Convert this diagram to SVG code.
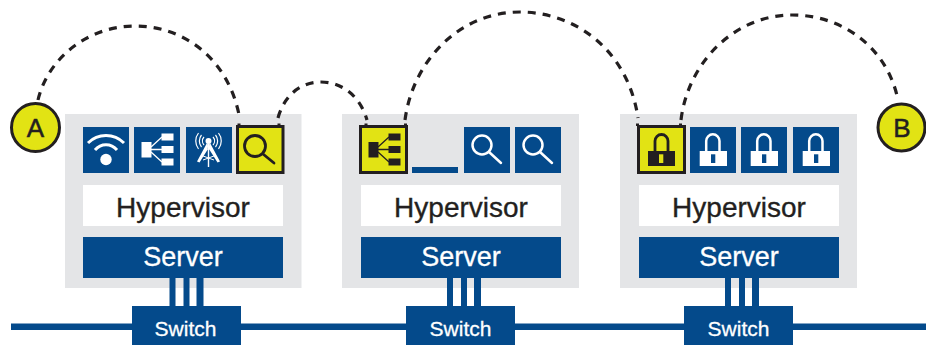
<svg xmlns="http://www.w3.org/2000/svg" xmlns:xlink="http://www.w3.org/1999/xlink" width="926" height="345" viewBox="0 0 926 345">
<style>
text{font-family:"Liberation Sans",Arial,sans-serif;text-anchor:middle}
.panel{fill:#e4e5e7}
.blue{fill:#044a8b}
.white{fill:#fff}
.yellow{fill:#e2e314;stroke:#231f20;stroke-width:3}
.hv{font-size:28px;fill:#231f20;stroke:#231f20;stroke-width:.35}
.sv{font-size:27px;fill:#fff;stroke:#fff;stroke-width:.3}
.sw{font-size:21px;fill:#fff;stroke:#fff;stroke-width:.3}
.lt{font-size:26px;fill:#231f20;stroke:#231f20;stroke-width:.5}
.dash{fill:none;stroke:#231f20;stroke-width:3.200;stroke-dasharray:8 7}
.nub{fill:none;stroke:#231f20;stroke-width:3}
.wl{fill:none;stroke:#fff;stroke-width:2.500}
.dl{fill:none;stroke:#231f20;stroke-width:2.800}
</style>
<defs>
<g id="lens-w"><circle cx="18" cy="18" r="9.500" class="wl"/><path d="M25 25L37 36" class="wl" stroke-linecap="round"/></g>
<g id="lens-d"><circle cx="18" cy="19" r="10.500" class="dl"/><path d="M26 27L37 36" class="dl" stroke-linecap="round"/></g>
<g id="lock-w"><path d="M16.200 24V14a6.650 6.650 0 0 1 13.300 0V24" class="wl"/><rect x="9.700" y="24" width="27.300" height="15" class="white"/><rect x="21" y="27.300" width="4.300" height="8.700" class="blue"/></g>
<g id="tree"><rect x="8" y="15.500" width="9" height="14.500"/><rect x="28" y="7" width="11" height="6"/><rect x="28" y="19.500" width="11" height="6"/><rect x="28" y="32" width="11" height="6"/><path d="M17 20L28 10M17 22.500H28M17 25L28 35" fill="none" stroke-width="1.300"/></g>
<g id="icon-bg"><rect width="46" height="46" class="blue"/></g>
<g id="links"><rect x="0" width="6" height="28" class="blue"/><rect x="14" width="6" height="28" class="blue"/><rect x="27" width="7" height="28" class="blue"/></g>
</defs>

<g id="backbone"><rect x="11" y="323.500" width="915" height="6.500" class="blue"/></g>

<g id="server-1">
<rect class="panel" x="65" y="114" width="236.500" height="174"/>
<use xlink:href="#icon-bg" x="83" y="127"/>
<path d="M88 143C98 133 114 133 124 143M95 150C101 143 111 143 117 150" fill="none" stroke="#fff" stroke-width="3"/>
<circle cx="106" cy="159.500" r="5.700" class="white"/>
<use xlink:href="#icon-bg" x="134" y="127"/>
<use xlink:href="#tree" x="134" y="127" fill="#fff" stroke="#fff"/>
<use xlink:href="#icon-bg" x="186" y="127"/>
<path d="M204 137a6 6 0 0 0 0 8M201.500 135a9.500 9.500 0 0 0 0 12M198.500 133a13 13 0 0 0 0 16M213 137a6 6 0 0 1 0 8M215.500 135a9.500 9.500 0 0 1 0 12M218.500 133a13 13 0 0 1 0 16" fill="none" stroke="#fff" stroke-width="1.200"/>
<circle cx="208.500" cy="141" r="3" class="white"/>
<path d="M207.500 142L197 161.500 199.500 162.500 208 149ZM209.500 142L220 161.500 217.500 162.500 209 149ZM207.800 144H209.200V167H207.800Z" class="white"/>
<path d="M203 156L214 160M214 156L203 160" fill="none" stroke="#fff" stroke-width="1"/>
<rect x="237.500" y="126.500" width="45.500" height="46" class="yellow"/>
<use xlink:href="#lens-d" x="237" y="127"/>
<path class="nub" d="M239 123.500V126M279 123.500V126"/>
<rect class="white" x="83" y="185" width="200" height="41"/>
<text class="hv" x="183" y="216.500">Hypervisor</text>
<rect class="blue" x="83" y="237" width="200" height="41"/>
<text class="sv" x="183" y="266">Server</text>
</g>

<g id="server-2">
<rect class="panel" x="342" y="114" width="237" height="174"/>
<rect x="360.500" y="126.500" width="46" height="46" class="yellow"/>
<use xlink:href="#tree" x="361" y="127" fill="#231f20" stroke="#231f20"/>
<path class="nub" d="M366 123.500V126M405.500 123.500V126"/>
<rect x="412" y="167" width="46" height="6" class="blue"/>
<use xlink:href="#icon-bg" x="464" y="127"/>
<use xlink:href="#lens-w" x="464" y="127"/>
<use xlink:href="#icon-bg" x="515" y="127"/>
<use xlink:href="#lens-w" x="515" y="127"/>
<rect class="white" x="361" y="185" width="200" height="41"/>
<text class="hv" x="461" y="216.500">Hypervisor</text>
<rect class="blue" x="361" y="237" width="200" height="41"/>
<text class="sv" x="461" y="266">Server</text>
</g>

<g id="server-3">
<rect class="panel" x="620" y="114" width="237" height="174"/>
<rect x="638.500" y="126.500" width="46" height="46" class="yellow"/>
<path class="nub" d="M637.500 123.500V126M680.500 123.500V126"/>
<path d="M655 151V141a6.500 6.500 0 0 1 13 0V151" class="dl"/>
<rect x="648" y="151" width="27" height="15" fill="#231f20"/>
<rect x="659" y="154.300" width="4.300" height="8.700" fill="#e2e314"/>
<use xlink:href="#icon-bg" x="690" y="127"/>
<use xlink:href="#lock-w" x="690" y="127"/>
<use xlink:href="#icon-bg" x="741" y="127"/>
<use xlink:href="#lock-w" x="741" y="127"/>
<use xlink:href="#icon-bg" x="793" y="127"/>
<use xlink:href="#lock-w" x="793" y="127"/>
<rect class="white" x="639" y="185" width="200" height="41"/>
<text class="hv" x="739" y="216.500">Hypervisor</text>
<rect class="blue" x="639" y="237" width="200" height="41"/>
<text class="sv" x="739" y="266">Server</text>
</g>

<g id="connectors">
<path class="dash" d="M38 100C48 58 88 26 135 26C185 26 230 60 240 120"/>
<path class="dash" d="M278 118C284 96 300 82 321 82C342 82 360 96 367 120"/>
<path class="dash" d="M405 120C413 60 460 12 520 12C575 12 628 50 638 118"/>
<path class="dash" d="M681 120C688 62 735 15 792 15C845 15 888 50 898 100"/>
</g>

<g id="switch-1">
<use xlink:href="#links" x="169.500" y="278"/>
<rect x="132" y="306" width="109" height="39" class="blue"/>
<text class="sw" x="185.500" y="336">Switch</text>
</g>
<g id="switch-2">
<use xlink:href="#links" x="447" y="278"/>
<rect x="406" y="306" width="109" height="39" class="blue"/>
<text class="sw" x="460.500" y="336">Switch</text>
</g>
<g id="switch-3">
<use xlink:href="#links" x="725" y="278"/>
<rect x="684" y="306" width="109" height="39" class="blue"/>
<text class="sw" x="738.500" y="336">Switch</text>
</g>

<g id="endpoint-a">
<circle cx="35.500" cy="127.500" r="24" class="yellow"/>
<text class="lt" x="35.500" y="136.500">A</text>
</g>
<g id="endpoint-b">
<circle cx="901.500" cy="127.500" r="23.500" class="yellow"/>
<text class="lt" x="902" y="136.500">B</text>
</g>
</svg>
